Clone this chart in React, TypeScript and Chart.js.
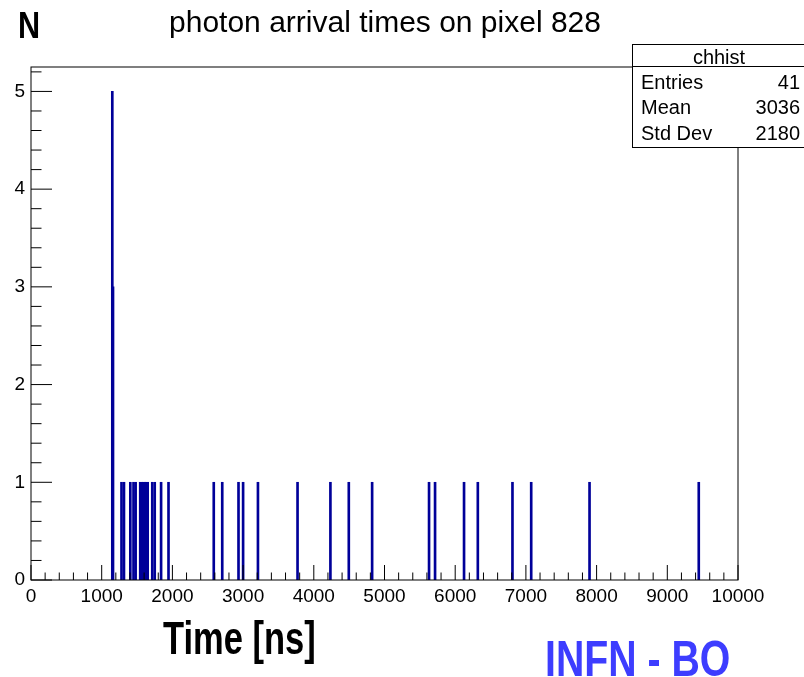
import React, { useEffect, useRef } from "react";
import { Chart, registerables } from "chart.js";

Chart.register(...registerables);

// ---- data ----
const binTimes = [
  1150, 1160, 1280, 1315, 1405, 1450, 1480, 1545, 1570, 1590, 1610, 1630, 1650,
  1715, 1750, 1840, 1945, 2585, 2705, 2935, 3000, 3210, 3770, 4235, 4495, 4825,
  5630, 5715, 6125, 6320, 6810, 7075, 7900, 9445,
];
const binCounts = [
  5, 3, 1, 1, 1, 1, 1, 1, 1, 1, 1, 1, 1,
  1, 1, 1, 1, 1, 1, 1, 1, 1, 1, 1, 1, 1,
  1, 1, 1, 1, 1, 1, 1, 1,
];
const xTickValues = [0, 1000, 2000, 3000, 4000, 5000, 6000, 7000, 8000, 9000, 10000];
const yTickValues = [0, 1, 2, 3, 4, 5];
const xRange = [0, 10000];
const yRange = [0, 5.25];

const titleText = "photon arrival times on pixel 828";
const xTitle = "Time [ns]";
const yTitle = "N";
const statsName = "chhist";
const statsLabels = ["Entries", "Mean", "Std Dev"];
const statsValues = ["41", "3036", "2180"];
const watermark = "INFN - BO";

const FONT = "'Liberation Sans', Arial, Helvetica, sans-serif";

function drawScaledText(
  ctx: CanvasRenderingContext2D,
  text: string,
  x: number,
  y: number,
  font: string,
  sx: number,
  align: CanvasTextAlign,
  color: string
) {
  ctx.save();
  ctx.translate(x, y);
  ctx.scale(sx, 1);
  ctx.font = font;
  ctx.fillStyle = color;
  ctx.textAlign = align;
  ctx.textBaseline = "alphabetic";
  ctx.fillText(text, 0, 0);
  ctx.restore();
}

const rootDecor = {
  id: "rootDecor",
  afterDraw(chart: any) {
    const ctx: CanvasRenderingContext2D = chart.ctx;
    const { left, right, top, bottom } = chart.chartArea;
    const xs = chart.scales.x;
    const ys = chart.scales.y;
    ctx.save();
    ctx.strokeStyle = "#000";
    ctx.lineWidth = 1;
    // frame
    ctx.strokeRect(left, top, right - left, bottom - top);
    // x ticks (inward)
    ctx.beginPath();
    for (let i = 0; i < xTickValues.length; i++) {
      const v = xTickValues[i];
      const px = xs.getPixelForValue(v);
      ctx.moveTo(px, bottom);
      ctx.lineTo(px, bottom - 15);
      if (i < xTickValues.length - 1) {
        const step = (xTickValues[i + 1] - v) / 5;
        for (let k = 1; k < 5; k++) {
          const mx = xs.getPixelForValue(v + k * step);
          ctx.moveTo(mx, bottom);
          ctx.lineTo(mx, bottom - 7.5);
        }
      }
    }
    // y ticks (inward)
    for (let i = 0; i < yTickValues.length; i++) {
      const v = yTickValues[i];
      const py = ys.getPixelForValue(v);
      ctx.moveTo(left, py);
      ctx.lineTo(left + 21, py);
      const step = i < yTickValues.length - 1 ? yTickValues[i + 1] - v : yTickValues[1] - yTickValues[0];
      for (let k = 1; k < 5; k++) {
        const mv = v + (k * step) / 5;
        if (mv > yRange[1]) break;
        const my = ys.getPixelForValue(mv);
        ctx.moveTo(left, my);
        ctx.lineTo(left + 10.5, my);
      }
    }
    ctx.stroke();

    // stats box
    const bx = 632.5, by = 44.5, bw = 180, bh = 103;
    ctx.fillStyle = "#fff";
    ctx.fillRect(bx, by, bw, bh);
    ctx.strokeRect(bx, by, bw, bh);
    ctx.beginPath();
    ctx.moveTo(bx, 66.5);
    ctx.lineTo(bx + bw, 66.5);
    ctx.stroke();
    drawScaledText(ctx, statsName, 719, 64, `20px ${FONT}`, 1, "center", "#000");
    for (let i = 0; i < statsLabels.length; i++) {
      const yb = 89 + i * 25.3;
      drawScaledText(ctx, statsLabels[i], 641, yb, `20px ${FONT}`, 1, "left", "#000");
      drawScaledText(ctx, statsValues[i], 800, yb, `20px ${FONT}`, 1, "right", "#000");
    }

    // titles
    drawScaledText(ctx, titleText, 385, 32, `30px ${FONT}`, 1, "center", "#000");
    drawScaledText(ctx, yTitle, 18, 38, `bold 36px ${FONT}`, 0.85, "left", "#000");
    drawScaledText(ctx, xTitle, 163, 654, `bold 46px ${FONT}`, 0.75, "left", "#000");
    drawScaledText(ctx, watermark, 545, 676, `bold 50px ${FONT}`, 0.785, "left", "#3d3dff");
    ctx.restore();
  },
};

export default function App() {
  const canvasRef = useRef<HTMLCanvasElement | null>(null);

  useEffect(() => {
    if (!canvasRef.current) return;
    const chart = new Chart(canvasRef.current, {
      type: "bar",
      data: {
        datasets: [
          {
            label: statsName,
            data: binTimes.map((t, i) => ({ x: t, y: binCounts[i] })),
            backgroundColor: "#000099",
            borderWidth: 0,
            barThickness: 2,
          } as any,
        ],
      },
      options: {
        animation: false,
        responsive: false,
        devicePixelRatio: 1,
        layout: { padding: { top: 67, right: 66, left: 0, bottom: 0 } },
        plugins: {
          legend: { display: false },
          tooltip: { enabled: false },
          title: { display: false },
        },
        scales: {
          x: {
            type: "linear",
            min: xRange[0],
            max: xRange[1],
            offset: false,
            grid: { display: false, drawTicks: false },
            border: { display: false },
            ticks: {
              color: "#000",
              font: { family: FONT, size: 19 },
              padding: 5,
              maxRotation: 0,
              autoSkip: false,
              callback: (v: any) => String(v),
            },
            afterBuildTicks: (scale: any) => {
              scale.ticks = xTickValues.map((v) => ({ value: v }));
            },
            afterFit: (scale: any) => {
              scale.height = 97;
            },
          },
          y: {
            type: "linear",
            min: yRange[0],
            max: yRange[1],
            grid: { display: false, drawTicks: false },
            border: { display: false },
            ticks: {
              color: "#000",
              font: { family: FONT, size: 19 },
              padding: 6,
              callback: (v: any) => String(v),
            },
            afterBuildTicks: (scale: any) => {
              scale.ticks = yTickValues.map((v) => ({ value: v }));
            },
            afterFit: (scale: any) => {
              scale.width = 31;
            },
          },
        },
      } as any,
      plugins: [rootDecor],
    });
    return () => chart.destroy();
  }, []);

  return (
    <div style={{ position: "absolute", left: 0, top: 0, width: 804, height: 677, background: "#fff" }}>
      <canvas ref={canvasRef} width={804} height={677} style={{ display: "block" }} />
    </div>
  );
}
